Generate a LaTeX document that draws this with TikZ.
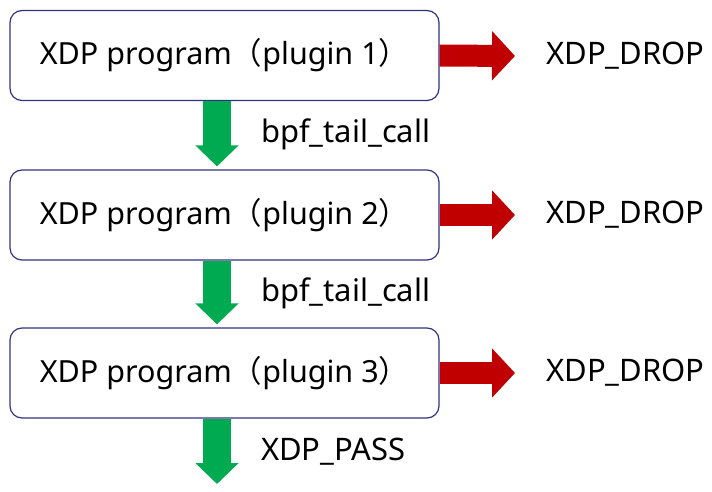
\documentclass[tikz,border=0pt]{standalone}
\usepackage{fontspec}
\setmainfont{Noto Sans}
\newfontfamily\cjk{Noto Sans CJK SC}
\usepackage{xcolor}
\usetikzlibrary{arrows.meta}
\definecolor{Frame}{RGB}{50,50,130}
\definecolor{Pass}{RGB}{0,170,80}
\definecolor{Drop}{RGB}{192,0,0}

\tikzset{
  plugin/.style={draw=Frame,line width=1.2pt,fill=white,rounded corners=12pt,
                 minimum width=429pt,minimum height=90pt,inner sep=0pt,font=\fontsize{30.5}{34}\selectfont},
  verdict/.style={anchor=west,inner sep=0pt,font=\fontsize{31}{35}\selectfont},
  passarrow/.style={draw=Pass,line width=28pt,-{Triangle[width=42pt,length=21pt]}},
  droparrow/.style={draw=Drop,line width=22pt,-{Triangle[width=48pt,length=23pt]}}
}

\begin{document}
\begin{tikzpicture}[x=1pt,y=-1pt]
  \useasboundingbox (0,0) rectangle (712,492);

  % the three chained programs
  \node[plugin] (plugA) at (224.5,55.5) {XDP program{\cjk（}plugin 1{\cjk）}};
  \node[plugin] (plugB) at (224.5,215) {XDP program{\cjk（}plugin 2{\cjk）}};
  \node[plugin] (plugC) at (224.5,373) {XDP program{\cjk（}plugin 3{\cjk）}};

  % verdicts
  \node[verdict] (dropA) at (546,56) {XDP\_DROP};
  \node[verdict] (dropB) at (546,215) {XDP\_DROP};
  \node[verdict] (dropC) at (546,373) {XDP\_DROP};
  \node[verdict] (callA) at (261,134) {bpf\_tail\_call};
  \node[verdict] (callB) at (261,293) {bpf\_tail\_call};
  \node[verdict] (pass) at (261,452) {XDP\_PASS};
  \coordinate (passend) at (217,484);

  % tail calls
  \draw[passarrow] ([xshift=-7.5pt]plugA.south) -- ([xshift=-7.5pt,yshift=3pt]plugB.north);
  \draw[passarrow] ([xshift=-7.5pt]plugB.south) -- ([xshift=-7.5pt,yshift=3pt]plugC.north);
  \draw[passarrow] ([xshift=-7.5pt]plugC.south) -- (passend);

  % drops
  \draw[droparrow] (plugA.east) -- ([xshift=-31pt]dropA.west);
  \draw[droparrow] (plugB.east) -- ([xshift=-31pt]dropB.west);
  \draw[droparrow] (plugC.east) -- ([xshift=-31pt]dropC.west);
\end{tikzpicture}
\end{document}
